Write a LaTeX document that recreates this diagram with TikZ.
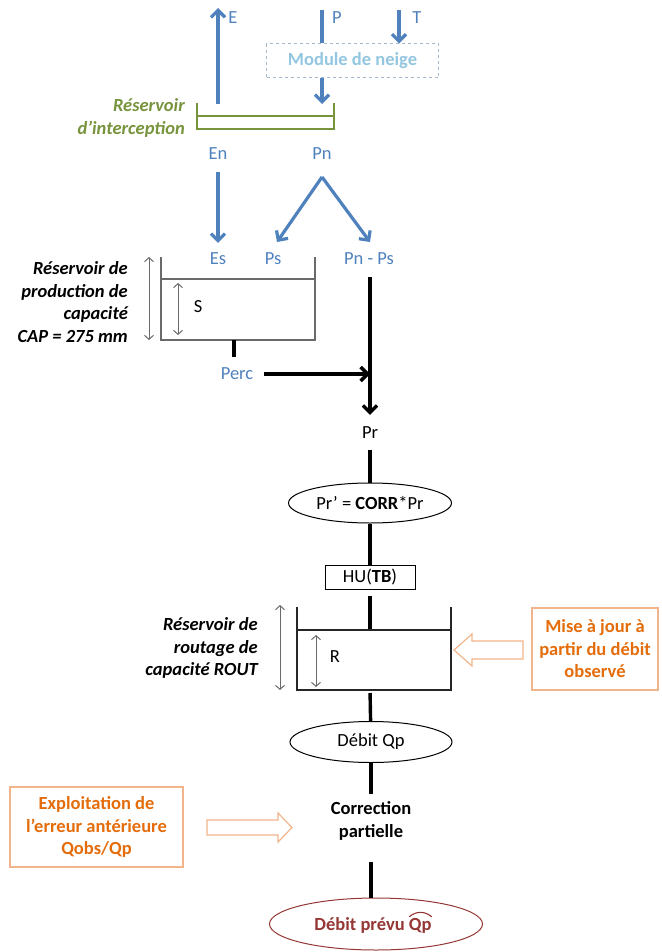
\documentclass[tikz,border=0pt]{standalone}
\usepackage{fontspec}
\setmainfont{Carlito}
\usetikzlibrary{arrows.meta,shapes.geometric,calc}
\definecolor{bl}{HTML}{4F81BD}
\definecolor{gr}{HTML}{77933C}
\definecolor{modtxt}{HTML}{93C6E0}
\definecolor{modbrd}{HTML}{A5B8CC}
\definecolor{ortxt}{HTML}{E46C0A}
\definecolor{orbrd}{HTML}{F2B48A}
\definecolor{dred}{HTML}{953735}
\definecolor{gry}{HTML}{6A6A6A}
\newcommand\myfs{\fontsize{18.5}{22.5}\selectfont}
\begin{document}
\begin{tikzpicture}[x=1pt,y=-1pt,font=\myfs,
  lbl/.style={inner sep=0pt},
  btxt/.style={inner sep=0pt,text=bl},
  bluearr/.style={draw=bl,line width=3.2pt,-{Straight Barb[length=7pt,width=14pt]}},
  blueline/.style={draw=bl,line width=3.2pt},
  blk/.style={draw=black,line width=3.4pt},
  blkarr/.style={draw=black,line width=3.4pt,-{Straight Barb[length=7pt,width=14pt]}},
  dimarr/.style={draw=gry,line width=1pt,{Straight Barb[length=4pt,width=9pt]}-{Straight Barb[length=4pt,width=9pt]}},
  reswall/.style={line width=1.5pt},
  sidelbl/.style={inner sep=0pt,align=right,anchor=east,font=\myfs\bfseries\itshape},
  oval/.style={ellipse,draw,line width=1pt,inner sep=0pt},
  orbox/.style={draw=orbrd,line width=1.2pt,text=ortxt,font=\myfs\bfseries,align=center,inner sep=0pt},
  hollow/.style={draw=orbrd,line width=1.2pt,fill=white,line join=miter}]
\useasboundingbox (0,0) rectangle (661,952);

% top inputs
\node[btxt] (E) at (233,18) {E};
\node[btxt] (P) at (337,18) {P};
\node[btxt] (T) at (417,18) {T};
\node[draw=modbrd,dashed,line width=1pt,minimum width=172pt,minimum height=34pt,inner sep=0pt,
      text=modtxt,font=\myfs\bfseries] (module) at (352.5,61) {Module de neige};
\coordinate (Ebot) at (218,104);
\coordinate (Etop) at (218,8);
\draw[bluearr] (Ebot) -- (Etop);
\coordinate (Ptop) at (322,10);
\draw[blueline] (Ptop) -- (Ptop |- module.north);
\coordinate (Ttop) at (399,10);
\draw[bluearr] (Ttop) -- (Ttop |- module.north);
\coordinate (Pin) at (322,104);
\draw[bluearr] (Pin |- module.south) -- (Pin);

% interception reservoir
\draw[gr,line width=2pt] (197,103) -- (197,129) -- (334,129) -- (334,103);
\draw[gr,line width=2pt] (197,116) -- (334,116);
\node[sidelbl,text=gr] (intlbl) at (185,118) {Réservoir\\d’interception};

\node[btxt] (En) at (218,154) {En};
\node[btxt] (Pn) at (322,154) {Pn};
\node[btxt] (Es) at (218,259) {Es};
\node[btxt] (Ps) at (273,259) {Ps};
\node[btxt] (PnPs) at (369,259) {Pn - Ps};
\draw[bluearr,shorten <=12pt,shorten >=10pt] (En) -- (Es);
\coordinate (split) at (322,177);
\coordinate (psL) at (277,242);
\coordinate (psR) at (370,242);
\draw[bluearr] (split) -- (psL);
\draw[bluearr] (split) -- (psR);

% production reservoir
\draw[gry,reswall] (161,257) -- (161,340) -- (315,340) -- (315,257);
\draw[gry,reswall] (161,279) -- (315,279);
\draw[dimarr] (149,257) -- (149,340);
\draw[dimarr] (178,283) -- (178,335);
\node[lbl] (S) at (198,307) {S};
\node[sidelbl] (prodlbl) at (128,302) {Réservoir de\\production de\\capacité\\CAP = 275 mm};

\coordinate (prodout) at (234,340);
\node[btxt] (Perc) at (237,374) {Perc};
\draw[blk,shorten >=11pt] (prodout) -- (prodout |- Perc.north);
\coordinate (percend) at (370,374);
\draw[blkarr,shorten <=11pt] (Perc) -- (percend);

\node[lbl] (Pr) at (370,433) {Pr};
\draw[blkarr,shorten <=12pt,shorten >=12pt] (PnPs.south -| Pr.north) -- (Pr.north);
\node[oval,minimum width=163pt,minimum height=40pt] (corr) at (370,503) {Pr’ = \textbf{CORR}*Pr};
\draw[blk,shorten <=11pt] (Pr) -- (corr);
\node[draw,line width=1pt,minimum width=90pt,minimum height=24pt,inner sep=0pt] (hu) at (370,577) {HU(\textbf{TB})};
\draw[blk] (corr) -- (hu);
\coordinate (routin) at (370,630);
\draw[blk,shorten <=6pt] (hu) -- (routin);

% routing reservoir
\draw[black!85,reswall] (297,607) -- (297,690) -- (451,690) -- (451,607);
\draw[black!85,reswall] (297,630) -- (451,630);
\draw[dimarr] (280,605) -- (280,690);
\draw[dimarr] (316,635) -- (316,687);
\node[lbl] (R) at (335,657) {R};
\node[sidelbl] (routlbl) at (258,648) {Réservoir de\\routage de\\capacité ROUT};

\coordinate (routout) at (370,690);
\node[oval,minimum width=162pt,minimum height=41pt] (debit) at (371,742) {Débit Qp};
\draw[blk,shorten <=3pt] (routout) -- (debit);
\node[lbl,align=center,font=\myfs\bfseries] (correction) at (371,821) {Correction\\partielle};
\draw[blk,shorten >=8pt] (debit) -- (correction);
\node[oval,draw=dred,minimum width=213pt,minimum height=52pt] (prevu) at (376,924) {};
\node[lbl,text=dred,font=\myfs\bfseries] (prevutxt) at (373,925) {Débit prévu Qp};
\draw[dred,line width=1.1pt] ($(prevutxt.north east)+(-22.5,0)$) .. controls ($(prevutxt.north east)+(-16,-6)$) and ($(prevutxt.north east)+(-6.5,-6)$) .. ($(prevutxt.north east)+(0,0)$);
\draw[blk,shorten <=22pt] (correction.south) -- (correction.south |- prevu.north);

% orange boxes
\node[orbox,minimum width=126pt,minimum height=82pt] (mise) at (595,649) {Mise à jour à\\partir du débit\\observé};
\node[orbox,minimum width=173pt,minimum height=80pt] (exploit) at (96.5,827) {Exploitation de\\l’erreur antérieure\\Qobs/Qp};
\draw[hollow] (523,641) -- (472,641) -- (472,634) -- (454,650) -- (472,666) -- (472,659) -- (523,659) -- cycle;
\draw[hollow] (207,820) -- (278,820) -- (278,813) -- (292,827.5) -- (278,842) -- (278,835) -- (207,835) -- cycle;
\end{tikzpicture}
\end{document}
